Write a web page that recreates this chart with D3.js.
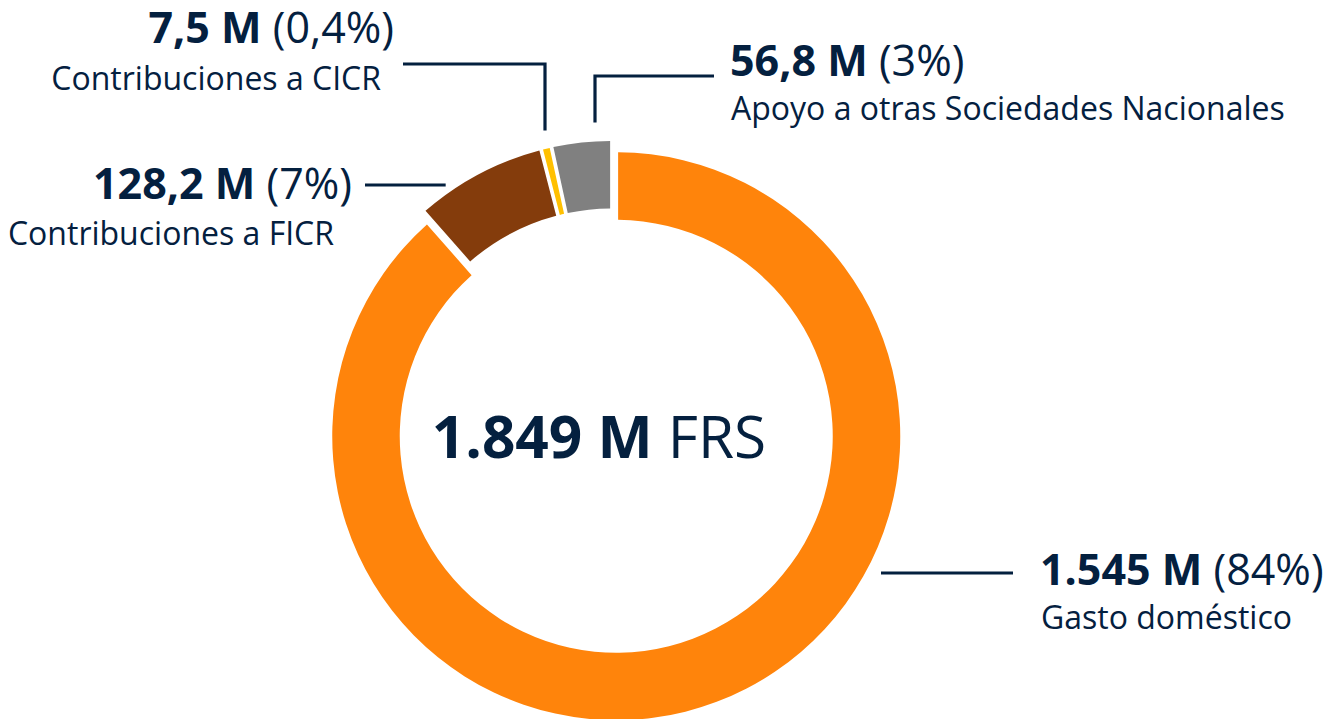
<!DOCTYPE html>
<html>
<head>
<meta charset="utf-8">
<script src="https://cdn.jsdelivr.net/npm/d3@7"></script>
<style>
  html, body { margin: 0; padding: 0; background: #fff; }
  svg { display: block; }
  text { font-family: "Open Sans", "Noto Sans", sans-serif; fill: #04203f; }
</style>
</head>
<body>
<script>
// data
const categories = ["Gasto doméstico", "Contribuciones a FICR", "Contribuciones a CICR", "Apoyo a otras Sociedades Nacionales"];
const values = [1545, 128.2, 7.5, 56.8];
const valueLabels = ["1.545 M", "128,2 M", "7,5 M", "56,8 M"];
const pctLabels = ["(84%)", "(7%)", "(0,4%)", "(3%)"];
const colors = ["#ff840b", "#843c0c", "#ffc000", "#808080"];
const totalLabel = "1.849 M";
const unitLabel = "FRS";

let width = 1338, height = 719;
let cx = 612, cy = 425;
let outerR = 284, innerR = 216.5;
let explode = [12, 0, 0, 0];

// label layout: anchor, x1/y1 line 1, x2/y2 line 2, leader
let layout = [
    {anchor: "start", x1: 1040, y1: 585, x2: 1041, y2: 629, leader: {type: "h", y: 573, end: 1013, gap: 14}},
    {anchor: "end", x1: 352, y1: 199, x2: 334, y2: 245, leader: {type: "h", y: 185, end: 365, gap: 8}},
    {anchor: "end", x1: 394, y1: 43, x2: 381, y2: 90, leader: {type: "v", x: 545, y: 64, end: 403, gap: 18}},
    {anchor: "start", x1: 730, y1: 76, x2: 731, y2: 120, leader: {type: "v", x: 595, y: 76, end: 714, gap: 19}}
];

let svg = d3.select("body").append("svg")
    .attr("width", width)
    .attr("height", height);

let pie = d3.pie().sort(null).value(d => d)
    .startAngle(0).endAngle(2 * Math.PI)
    .padAngle(0.0105);

let arc = d3.arc().innerRadius(innerR).outerRadius(outerR);

let arcs = pie(values);

let g = svg.append("g").attr("transform", `translate(${cx},${cy})`);

g.selectAll("path.slice")
    .data(arcs)
    .enter().append("path")
    .attr("class", "slice")
    .attr("d", arc)
    .attr("fill", (d, i) => colors[i])
    .attr("transform", (d, i) => {
        let mid = (d.startAngle + d.endAngle) / 2;
        return `translate(${Math.sin(mid) * explode[i]},${-Math.cos(mid) * explode[i]})`;
    });

// leader lines, starting just outside the ring
let leaders = svg.append("g").attr("class", "leaders");
arcs.forEach((d, i) => {
    let L = layout[i].leader;
    let mid = (d.startAngle + d.endAngle) / 2;
    let ox = cx + Math.sin(mid) * explode[i];
    let oy = cy - Math.cos(mid) * explode[i];
    let r = outerR + L.gap;
    let pts;
    if (L.type === "h") {
        let dy = L.y - oy;
        let side = Math.sin(mid) >= 0 ? 1 : -1;
        let x0 = ox + side * Math.sqrt(r * r - dy * dy);
        pts = [[x0, L.y], [L.end, L.y]];
    } else {
        let dx = L.x - ox;
        let y0 = oy - Math.sqrt(r * r - dx * dx);
        pts = [[L.x, y0], [L.x, L.y], [L.end, L.y]];
    }
    leaders.append("path")
        .attr("d", d3.line()(pts))
        .attr("fill", "none")
        .attr("stroke", "#04203f")
        .attr("stroke-width", 3.2);
});

// labels
let labels = svg.append("g").attr("class", "labels");
categories.forEach((c, i) => {
    let p = layout[i];
    let t1 = labels.append("text")
        .attr("x", p.x1).attr("y", p.y1)
        .attr("text-anchor", p.anchor)
        .style("font-size", "43px");
    t1.append("tspan").style("font-weight", 700).text(valueLabels[i]);
    t1.append("tspan").style("font-weight", 400).text(" " + pctLabels[i]);
    labels.append("text")
        .attr("x", p.x2).attr("y", p.y2)
        .attr("text-anchor", p.anchor)
        .style("font-size", "32px")
        .text(c);
});

// total in the middle
let tt = svg.append("text")
    .attr("x", 599).attr("y", 458)
    .attr("text-anchor", "middle")
    .style("font-size", "58.5px");
tt.append("tspan").style("font-weight", 700).text(totalLabel);
tt.append("tspan").style("font-weight", 400).text(" " + unitLabel);
</script>
</body>
</html>
